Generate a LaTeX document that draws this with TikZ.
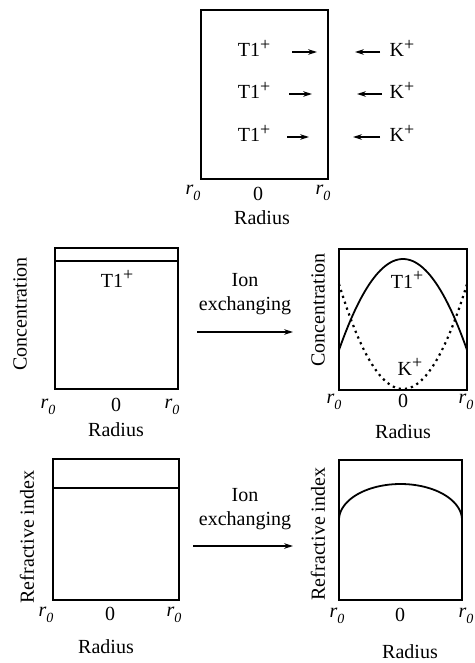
\documentclass[tikz,border=0pt]{standalone}
\usepackage{fontspec}
\setmainfont{Liberation Serif}
\usetikzlibrary{arrows.meta}

\newcommand{\rz}{\textit{r}\raisebox{-0.7ex}{\scriptsize\textit{0}}}
\newcommand{\ion}[1]{#1\raisebox{0.75ex}{\small +}}

\begin{document}
\begin{tikzpicture}[x=0.5pt, y=-0.5pt, >={Stealth[length=4.5pt, width=2.8pt]}, line width=0.75pt,
    ylab/.style={rotate=90},
    ionarrow/.style={->, line width=0.6pt}]
    \useasboundingbox (0,0) rectangle (475,663);

    % fibre cross-section before exchange
    \draw (201,10) rectangle (328,179);
    \foreach \n/\yb/\ya/\xa/\xb/\xc/\xd in {1/57/52/292/317/380/355, 2/99/94/289/312/382/357, 3/142/137/287/309/380/353} {
        \node[anchor=base] (tl\n) at (254,\yb) {\ion{T1}};
        \node[anchor=base] (k\n) at (402,\yb) {\ion{K}};
        \coordinate (tlhead\n) at (\xb,\ya);
        \coordinate (khead\n) at (\xd,\ya);
        \draw[ionarrow] (\xa,\ya) -- (tlhead\n);
        \draw[ionarrow] (\xc,\ya) -- (khead\n);
    }
    \node (r0a) at (193,193) {\rz};
    \node (ca) at (258,194) {0};
    \node (r0b) at (323,193) {\rz};
    \node (rada) at (262,218) {Radius};

    % concentration before
    \draw (55,248) rectangle (178,389);
    \draw (55,261) -- (178,261);
    \node[anchor=base] (tlb) at (117,287) {\ion{T1}};
    \node[ylab] (concb) at (20,314) {Concentration};
    \node (r0c) at (48,407) {\rz};
    \node (cb) at (116,405) {0};
    \node (r0d) at (172,407) {\rz};
    \node (radb) at (116,430) {Radius};

    % ion exchanging step (middle)
    \node[align=center] (exa) at (245,294) {Ion\\exchanging};
    \coordinate (exa1) at (197,332);
    \coordinate (exa2) at (293,332);
    \draw[ionarrow] (exa1) -- (exa2);

    % concentration after
    \draw (339,249) rectangle (467,390);
    \draw[line width=0.9pt] plot[domain=-1:1, samples=60] ({403+64*\x}, {259+91*\x*\x});
    \draw[dotted, line width=1.1pt] plot[domain=-1:1, samples=60] ({403+64*\x}, {389-105*\x*\x});
    \node[anchor=base] (tlc) at (407,288) {\ion{T1}};
    \node[anchor=base] (kc) at (410,375) {\ion{K}};
    \node[ylab] (concc) at (318,310) {Concentration};
    \node (r0e) at (334,402) {\rz};
    \node (cc) at (403,401) {0};
    \node (r0f) at (466,402) {\rz};
    \node (radc) at (403,432) {Radius};

    % refractive index before
    \draw (53,459) rectangle (179,600);
    \draw (53,488) -- (179,488);
    \node[ylab] (refb) at (27,537) {Refractive index};
    \node (r0g) at (46,615) {\rz};
    \node (cd) at (110,614) {0};
    \node (r0h) at (174,615) {\rz};
    \node (radd) at (106,647) {Radius};

    % ion exchanging step (bottom)
    \node[align=center] (exb) at (245,509) {Ion\\exchanging};
    \coordinate (exb1) at (193,546);
    \coordinate (exb2) at (293,546);
    \draw[ionarrow] (exb1) -- (exb2);

    % refractive index after
    \draw (339,460) rectangle (462,600);
    \draw[line width=0.9pt] plot[domain=180:0, samples=60] ({400.5+61.5*cos(\x)}, {520-36*sin(\x)});
    \node[ylab] (refc) at (318,534) {Refractive index};
    \node (r0i) at (337,616) {\rz};
    \node (ce) at (400,615) {0};
    \node (r0j) at (466,616) {\rz};
    \node (rade) at (410,652) {Radius};
\end{tikzpicture}
\end{document}
